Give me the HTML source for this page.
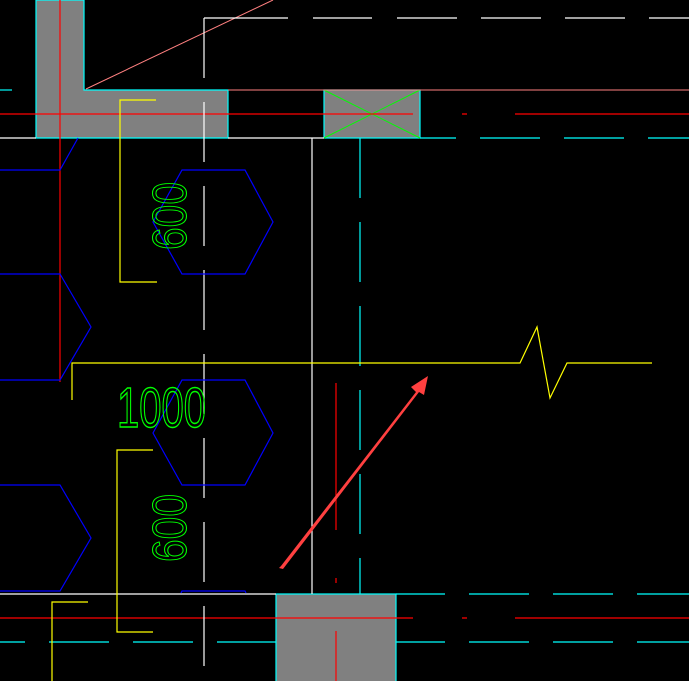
<!DOCTYPE html>
<html><head><style>html,body{margin:0;padding:0;background:#000;}svg{display:block}</style></head>
<body>
<svg width="689" height="681" viewBox="0 0 689 681" xmlns="http://www.w3.org/2000/svg">
<rect width="689" height="681" fill="#000"/>
<path d="M36,0 H84 V90 H228 V138 H36 Z" fill="#808080" stroke="#00ffff" stroke-width="1.2"/>
<rect x="324" y="90" width="96" height="48" fill="#808080" stroke="#00ffff" stroke-width="1.2"/>
<path d="M324,90 L420,138 M324,138 L420,90" stroke="#00ff00" stroke-width="1"/>
<rect x="276" y="594" width="120" height="90" fill="#808080" stroke="#00ffff" stroke-width="1.2"/>
<line x1="86" y1="89" x2="273" y2="0" stroke="#ff8080" stroke-width="1"/>
<line x1="228" y1="90" x2="689" y2="90" stroke="#ff8080" stroke-width="1"/>
<line x1="60" y1="0" x2="60" y2="382" stroke="#ff0000" stroke-width="1.2"/>
<path d="M0,114 H413 M462,114 H467 M515,114 H689" stroke="#ff0000" stroke-width="1.2"/>
<path d="M0,618 H413 M462,618 H467 M515,618 H689" stroke="#ff0000" stroke-width="1.2"/>
<path d="M336,383 V530 M336,578 V583 M336,631 V681" stroke="#ff0000" stroke-width="1.2"/>
<path d="M204,18 H288 M313,18 H372 M397,18 H457 M481,18 H541 M565,18 H625 M649,18 H689" stroke="#fff" stroke-width="1.2"/>
<path d="M204,18 V78 M204,102 V162 M204,186 V246 M204,270 V330 M204,354 V414 M204,438 V498 M204,522 V582 M204,606 V666" stroke="#fff" stroke-width="1.2"/>
<path d="M0,138 H36 M228,138 H324" stroke="#fff" stroke-width="1.2"/>
<line x1="312" y1="138" x2="312" y2="594" stroke="#fff" stroke-width="1.2"/>
<line x1="0" y1="594" x2="276" y2="594" stroke="#fff" stroke-width="1.2"/>
<path d="M0,90 H12" stroke="#00ffff" stroke-width="1.2"/>
<path d="M420,138 H456 M480,138 H540 M564,138 H624 M648,138 H689" stroke="#00ffff" stroke-width="1.2"/>
<path d="M360,138 V198 M360,222 V282 M360,306 V366 M360,390 V450 M360,474 V534 M360,558 V594" stroke="#00ffff" stroke-width="1.2"/>
<path d="M396,594 H445 M469,594 H529 M553,594 H613 M637,594 H689" stroke="#00ffff" stroke-width="1.2"/>
<path d="M0,642 H25 M49,642 H109 M133,642 H193 M217,642 H276 M396,642 H445 M469,642 H529 M553,642 H613 M637,642 H689" stroke="#00ffff" stroke-width="1.2"/>
<g stroke="#0000ff" stroke-width="1.2" fill="none">
<polygon points="182,170 245,170 273,222 245,274 182,274 153,222"/>
<polygon points="182,380 245,380 273,433 245,485 182,485 153,433"/>
<path d="M0,170 H60 L78,138"/>
<path d="M0,274 H60 L91,327 L60,380 H0"/>
<path d="M0,485 H60 L91,538 L60,591 H0"/>
<path d="M181,593 L182,591 H245 L246,593"/>
</g>
<g stroke="#ffff00" stroke-width="1.2" fill="none">
<path d="M72,400 V363 H520 L537,327 L550,398 L567,363 H652"/>
<path d="M156,100 H120 V282 H157"/>
<path d="M153,450 H117 V632 H153"/>
<path d="M88,602 H52 V681"/>
</g>
<g fill="none" stroke="#00ff00" stroke-width="0.8" font-family="Liberation Sans Narrow, Liberation Sans, sans-serif">
<text transform="translate(186,250) rotate(-90) scale(1,1.35)" font-size="36" textLength="68" lengthAdjust="spacingAndGlyphs">600</text>
<text transform="translate(186,562) rotate(-90) scale(1,1.35)" font-size="36" textLength="68" lengthAdjust="spacingAndGlyphs">600</text>
<text transform="translate(117,427) scale(1,1.9)" font-size="30" textLength="89" lengthAdjust="spacingAndGlyphs">1000</text>
</g>
<path d="M279,568 L281,566 L416,392 L411,387 L428,376 L424,395 L419,392 L283,569 Z" fill="#ff4040"/>
</svg>
</body></html>
